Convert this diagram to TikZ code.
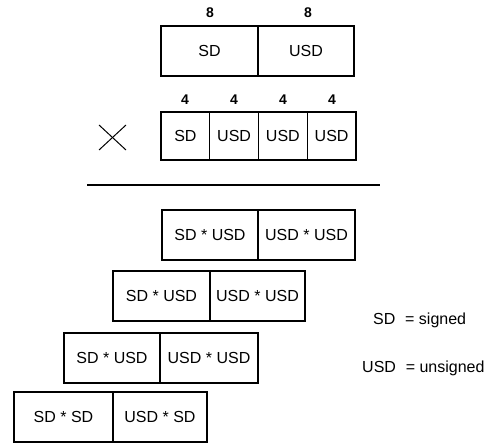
\documentclass[tikz,border=0pt]{standalone}
\usepackage{fontspec}
\setmainfont{Liberation Sans}
\begin{document}
\begin{tikzpicture}[x=1pt,y=-1pt,
  cell/.style={draw, line width=1.2pt, anchor=north west, inner sep=0pt, outer sep=0pt,
    minimum height=50pt, font=\fontsize{16}{18}\selectfont},
  bitlbl/.style={inner sep=0pt, font=\fontsize{14}{16}\selectfont\bfseries},
  legend/.style={inner sep=0pt, anchor=west, font=\fontsize{16}{18}\selectfont}]
\useasboundingbox (0,0) rectangle (489,443);
% multiplicand
\node[cell, minimum width=97pt] (a1) at (161,26) {SD};
\node[cell, minimum width=96pt] (a2) at (258,26) {USD};
\node[bitlbl] (l8a) at (210,13) {8};
\node[bitlbl] (l8b) at (308,13) {8};
% multiplier
\node[cell, minimum width=48.75pt, minimum height=48pt] (b1) at (161,112) {SD};
\node[cell, minimum width=48.75pt, minimum height=48pt] (b2) at (209.75,112) {USD};
\node[cell, minimum width=48.75pt, minimum height=48pt] (b3) at (258.5,112) {USD};
\node[cell, minimum width=48.75pt, minimum height=48pt] (b4) at (307.25,112) {USD};
\node[bitlbl] (l4a) at (185,100) {4};
\node[bitlbl] (l4b) at (234,100) {4};
\node[bitlbl] (l4c) at (283,100) {4};
\node[bitlbl] (l4d) at (332,100) {4};
% times sign
\coordinate (x1) at (99,125);
\coordinate (x2) at (126,150);
\coordinate (x3) at (99,150);
\coordinate (x4) at (126,125);
\draw[line width=1pt] (x1) -- (x2);
\draw[line width=1pt] (x3) -- (x4);
% rule
\coordinate (r1) at (87,185);
\coordinate (r2) at (380,185);
\draw[line width=1.3pt] (r1) -- (r2);
% partial products
\node[cell, minimum width=96pt] (p1a) at (162,210) {SD * USD};
\node[cell, minimum width=97pt] (p1b) at (258,210) {USD * USD};
\node[cell, minimum width=97pt] (p2a) at (113,271) {SD * USD};
\node[cell, minimum width=95pt] (p2b) at (210,271) {USD * USD};
\node[cell, minimum width=96pt] (p3a) at (64,333) {SD * USD};
\node[cell, minimum width=98pt] (p3b) at (160,333) {USD * USD};
\node[cell, minimum width=99pt] (p4a) at (14,392) {SD * SD};
\node[cell, minimum width=94pt] (p4b) at (113,392) {USD * SD};
% legend
\node[legend] (lg1) at (373,320) {SD\,\, = signed};
\node[legend] (lg2) at (362,368) {USD\,\, = unsigned};
\end{tikzpicture}
\end{document}
